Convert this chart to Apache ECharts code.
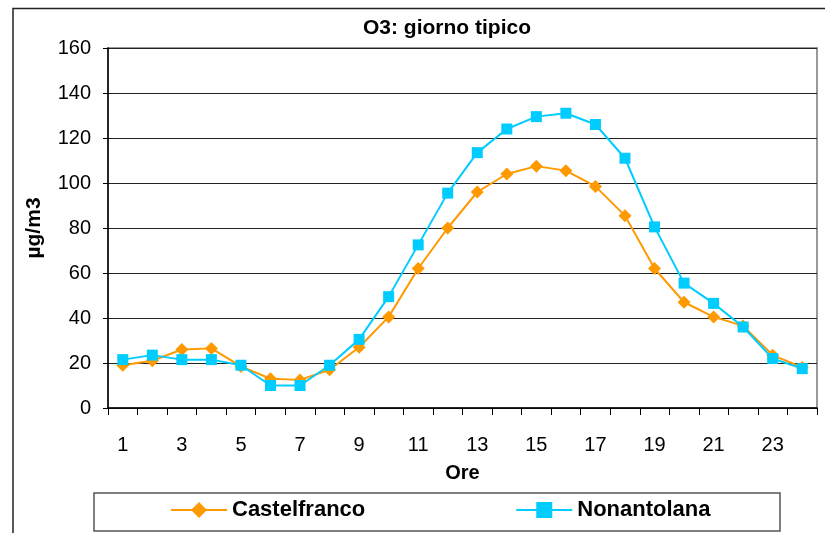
<!DOCTYPE html>
<html>
<head>
<meta charset="utf-8">
<script src="https://cdn.jsdelivr.net/npm/echarts@6/dist/echarts.min.js"></script>
<style>
  html, body { margin: 0; padding: 0; background: #fff; }
  #chart { width: 825px; height: 533px; }
</style>
</head>
<body>
<div id="chart"></div>
<script>
// ore del giorno
const ore = ['1', '2', '3', '4', '5', '6', '7', '8', '9', '10', '11', '12',
  '13', '14', '15', '16', '17', '18', '19', '20', '21', '22', '23', '24'];

// O3 medio orario (µg/m3)
const castelfranco = [19, 21, 26, 26.5, 18.5, 13, 12.5, 17, 27, 40.5, 62, 80,
  96, 104, 107.5, 105.5, 98.5, 85.5, 62, 47, 40.5, 36.5, 23.5, 18];
const nonantolana = [21.5, 23.5, 21.5, 21.5, 19, 10, 10, 19, 30.5, 49.5, 72.5, 95.5,
  113.5, 124, 129.5, 131, 126, 111, 80.5, 55.5, 46.5, 36, 22, 17.5];

const font = "'Liberation Sans', Arial, sans-serif";

const chart = echarts.init(document.getElementById('chart'));
chart.setOption({
  animation: false,
  title: {
    text: 'O3: giorno tipico',
    left: 363,
    top: 18,
    padding: 0,
    textStyle: { fontFamily: font, fontSize: 21, fontWeight: 'bold', color: '#000' }
  },
  // cornice esterna e riquadro legenda
  graphic: [
    {
      type: 'rect',
      shape: { x: 13, y: 8.5, width: 830, height: 540 },
      style: { fill: 'none', stroke: '#222', lineWidth: 1.5 },
      z: 0
    },
    {
      type: 'rect',
      shape: { x: 94, y: 493, width: 686, height: 38 },
      style: { fill: 'none', stroke: '#555', lineWidth: 1.5 },
      z: 0
    }
  ],
  legend: {
    data: ['Castelfranco', 'Nonantolana'],
    left: 170,
    top: 499,
    padding: 0,
    itemWidth: 56,
    itemHeight: 20,
    itemGap: 150,
    textStyle: { fontFamily: font, fontSize: 22, fontWeight: 'bold', color: '#000' }
  },
  grid: {
    left: 108,
    right: 8,
    top: 48,
    bottom: 125,
    show: true,
    borderColor: '#999',
    borderWidth: 2
  },
  xAxis: {
    type: 'category',
    data: ore,
    boundaryGap: true,
    name: 'Ore',
    nameLocation: 'middle',
    nameGap: 55,
    nameTextStyle: { fontFamily: font, fontSize: 20, fontWeight: 'bold', color: '#000' },
    axisLine: { lineStyle: { color: '#000', width: 1.5 } },
    axisTick: { show: true, interval: 0, length: 7, lineStyle: { color: '#000' } },
    axisLabel: { interval: 1, margin: 27, fontFamily: font, fontSize: 20, color: '#000' },
    splitLine: { show: false }
  },
  yAxis: {
    type: 'value',
    min: 0,
    max: 160,
    interval: 20,
    name: 'µg/m3',
    nameLocation: 'middle',
    nameGap: 63,
    nameTextStyle: { fontFamily: font, fontSize: 21, fontWeight: 'bold', color: '#000' },
    axisLine: { show: true, lineStyle: { color: '#000', width: 1.5 } },
    axisTick: { show: true, length: 5, lineStyle: { color: '#000' } },
    axisLabel: { margin: 17, fontFamily: font, fontSize: 20, color: '#000' },
    splitLine: { lineStyle: { color: '#222', width: 1.2 } }
  },
  series: [
    {
      name: 'Castelfranco',
      type: 'line',
      data: castelfranco,
      symbol: 'diamond',
      symbolSize: 13,
      color: '#FF9900',
      lineStyle: { color: '#FF9900', width: 2 },
      itemStyle: { color: '#FF9900' }
    },
    {
      name: 'Nonantolana',
      type: 'line',
      data: nonantolana,
      symbol: 'rect',
      symbolSize: 11,
      color: '#00CCFF',
      lineStyle: { color: '#00CCFF', width: 2 },
      itemStyle: { color: '#00CCFF' }
    }
  ]
});
</script>
</body>
</html>
